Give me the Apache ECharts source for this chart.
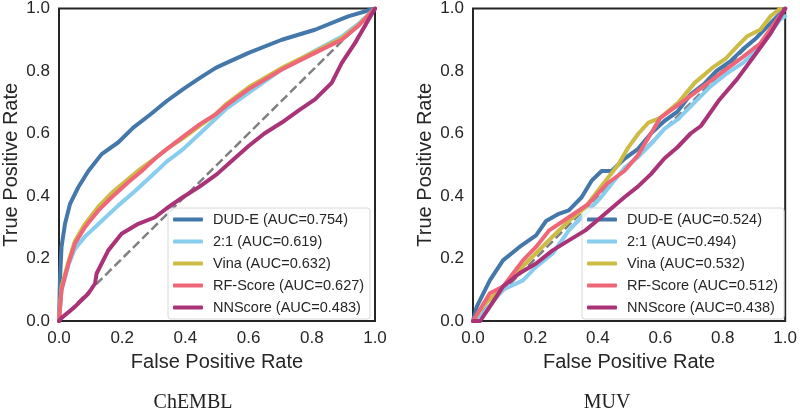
<!DOCTYPE html>
<html>
<head>
<meta charset="utf-8">
<script src="https://cdn.jsdelivr.net/npm/echarts@6/dist/echarts.min.js"></script>
<style>
  html, body { margin: 0; padding: 0; background: #fff; }
  #chart { width: 800px; height: 411px; }
</style>
</head>
<body>
<div id="chart"></div>
<script>
// panels and tick labels
const panelTitles = ['ChEMBL', 'MUV']
const methodNames = ['DUD-E', '2:1', 'Vina', 'RF-Score', 'NNScore']
const chemblAuc = ['0.754', '0.619', '0.632', '0.627', '0.483']
const muvAuc = ['0.524', '0.494', '0.532', '0.512', '0.438']
const diagonal = [[0, 0], [1, 1]]

// ROC curves, [fpr, tpr]
const chemblDude = [[0, 0], [0.003, 0.13], [0.008, 0.237], [0.019, 0.311], [0.035, 0.375], [0.061, 0.428], [0.093, 0.48], [0.135, 0.534], [0.188, 0.572], [0.235, 0.619], [0.288, 0.66], [0.341, 0.704], [0.393, 0.742], [0.446, 0.778], [0.496, 0.81], [0.53, 0.826], [0.6, 0.858], [0.705, 0.9], [0.81, 0.932], [0.915, 0.975], [1, 1]]
const chembl21 = [[0, 0], [0.008, 0.1], [0.03, 0.18], [0.05, 0.23], [0.082, 0.27], [0.135, 0.32], [0.188, 0.37], [0.24, 0.415], [0.288, 0.46], [0.341, 0.51], [0.393, 0.55], [0.446, 0.6], [0.53, 0.68], [0.6, 0.73], [0.705, 0.805], [0.81, 0.865], [0.895, 0.91], [0.946, 0.95], [1, 1]]
const chemblVina = [[0, 0], [0.008, 0.11], [0.03, 0.19], [0.05, 0.255], [0.082, 0.31], [0.124, 0.365], [0.167, 0.41], [0.22, 0.455], [0.262, 0.49], [0.304, 0.52], [0.341, 0.55], [0.393, 0.585], [0.446, 0.625], [0.494, 0.66], [0.53, 0.695], [0.6, 0.748], [0.705, 0.81], [0.81, 0.862], [0.895, 0.905], [0.946, 0.945], [1, 1]]
const chemblRf = [[0, 0], [0.008, 0.1], [0.03, 0.184], [0.05, 0.247], [0.082, 0.3], [0.124, 0.353], [0.167, 0.396], [0.22, 0.445], [0.262, 0.48], [0.304, 0.52], [0.341, 0.55], [0.393, 0.59], [0.446, 0.63], [0.494, 0.66], [0.53, 0.69], [0.6, 0.742], [0.705, 0.805], [0.81, 0.858], [0.895, 0.9], [0.946, 0.943], [1, 1]]
const chemblNn = [[0, 0], [0.008, 0.01], [0.05, 0.045], [0.093, 0.088], [0.114, 0.12], [0.119, 0.152], [0.156, 0.226], [0.198, 0.279], [0.251, 0.311], [0.304, 0.332], [0.34, 0.36], [0.393, 0.397], [0.445, 0.43], [0.5, 0.47], [0.55, 0.515], [0.6, 0.56], [0.65, 0.6], [0.705, 0.635], [0.76, 0.675], [0.81, 0.709], [0.863, 0.762], [0.895, 0.826], [0.937, 0.89], [1, 1]]

const muvDude = [[0, 0], [0.012, 0.046], [0.054, 0.13], [0.096, 0.194], [0.149, 0.237], [0.202, 0.274], [0.234, 0.32], [0.275, 0.343], [0.307, 0.354], [0.348, 0.396], [0.38, 0.449], [0.412, 0.48], [0.444, 0.48], [0.486, 0.52], [0.528, 0.55], [0.57, 0.6], [0.613, 0.64], [0.655, 0.67], [0.697, 0.725], [0.739, 0.757], [0.78, 0.8], [0.823, 0.83], [0.865, 0.87], [0.907, 0.905], [0.95, 0.95], [1, 1]]
const muv21 = [[0, 0], [0.034, 0.026], [0.096, 0.1], [0.16, 0.13], [0.202, 0.173], [0.255, 0.216], [0.307, 0.29], [0.348, 0.332], [0.41, 0.396], [0.485, 0.49], [0.528, 0.524], [0.57, 0.566], [0.613, 0.615], [0.657, 0.646], [0.71, 0.7], [0.76, 0.75], [0.81, 0.79], [0.865, 0.826], [0.92, 0.876], [0.984, 0.965], [1, 0.975]]
const muvVina = [[0, 0], [0.034, 0.05], [0.096, 0.11], [0.17, 0.185], [0.255, 0.27], [0.307, 0.32], [0.36, 0.364], [0.41, 0.43], [0.465, 0.5], [0.497, 0.555], [0.53, 0.6], [0.562, 0.635], [0.6, 0.65], [0.657, 0.698], [0.71, 0.762], [0.773, 0.815], [0.81, 0.84], [0.846, 0.879], [0.878, 0.911], [0.92, 0.932], [0.953, 0.975], [0.984, 1.0]]
const muvRf = [[0, 0], [0.054, 0.089], [0.096, 0.11], [0.16, 0.194], [0.202, 0.237], [0.244, 0.29], [0.307, 0.332], [0.37, 0.375], [0.43, 0.44], [0.485, 0.48], [0.528, 0.53], [0.57, 0.6], [0.6, 0.65], [0.655, 0.69], [0.71, 0.73], [0.79, 0.79], [0.865, 0.845], [0.92, 0.888], [1, 1]]
const muvNn = [[0, 0], [0.023, 0], [0.054, 0.046], [0.096, 0.11], [0.149, 0.153], [0.202, 0.184], [0.255, 0.226], [0.307, 0.258], [0.36, 0.29], [0.41, 0.332], [0.485, 0.396], [0.528, 0.43], [0.57, 0.47], [0.613, 0.52], [0.655, 0.556], [0.697, 0.6], [0.73, 0.624], [0.79, 0.709], [0.846, 0.774], [0.9, 0.847], [0.953, 0.92], [1, 1]]

const colors = ['#4477AA', '#88CCEE', '#CCBB44', '#EE6677', '#AA3377']
const font = "'Liberation Sans', Arial, sans-serif"
const textColor = '#262626'

const panels = [
  { left: 59, curves: [chemblDude, chembl21, chemblVina, chemblRf, chemblNn], auc: chemblAuc, captionX: 193 },
  { left: 473, curves: [muvDude, muv21, muvVina, muvRf, muvNn], auc: muvAuc, captionX: 607 }
]

const grid = []
const xAxis = []
const yAxis = []
const series = []
const legend = []

panels.forEach((p, i) => {
  grid.push({
    left: p.left, top: 7, width: 316, height: 314,
    show: true, borderColor: '#262626', borderWidth: 2, backgroundColor: '#fff'
  })
  const axisCommon = {
    type: 'value', min: 0, max: 1, interval: 0.2, gridIndex: i,
    axisLine: { show: false }, axisTick: { show: false }, splitLine: { show: false },
    axisLabel: { color: textColor, fontSize: 17, fontFamily: font, margin: 9, formatter: v => v.toFixed(1) },
    nameLocation: 'middle',
    nameTextStyle: { color: textColor, fontSize: 20, fontFamily: font }
  }
  xAxis.push(Object.assign({}, axisCommon, { name: 'False Positive Rate', nameGap: 31 }))
  yAxis.push(Object.assign({}, axisCommon, { name: 'True Positive Rate', nameGap: 38 }))

  // chance line
  series.push({
    type: 'line', xAxisIndex: i, yAxisIndex: i, data: diagonal, showSymbol: false, silent: true,
    lineStyle: { color: '#808080', width: 2.5, type: [9, 4] }, z: 1
  })
  const names = []
  p.curves.forEach((c, k) => {
    const name = methodNames[k] + ' (AUC=' + p.auc[k] + ')'
    names.push(name)
    series.push({
      name, type: 'line', xAxisIndex: i, yAxisIndex: i, data: c, showSymbol: false,
      color: colors[k], lineStyle: { color: colors[k], width: 4, cap: 'round', join: 'round' }, z: 2 + k
    })
  })
  legend.push({
    data: names,
    orient: 'vertical',
    left: p.left + 109, top: 208,
    backgroundColor: 'rgba(255,255,255,0.8)',
    borderColor: '#d8d8d8', borderWidth: 1, borderRadius: 3,
    padding: [4, 6, 4, 5],
    icon: 'roundRect', itemWidth: 30, itemHeight: 4, itemGap: 7,
    textStyle: { color: textColor, fontSize: 14.5, fontFamily: font, padding: [0, 0, 0, 5] },
    selectedMode: false
  })
})

const chart = echarts.init(document.getElementById('chart'))
chart.setOption({
  animation: false,
  backgroundColor: '#fff',
  grid, xAxis, yAxis, series, legend,
  graphic: panels.map((p, i) => ({
    type: 'text', x: p.captionX, y: 403,
    style: { text: panelTitles[i], fill: '#222', fontSize: 20, fontFamily: "'Liberation Serif', 'DejaVu Serif', serif", align: 'center', verticalAlign: 'middle' }
  }))
})
</script>
</body>
</html>
